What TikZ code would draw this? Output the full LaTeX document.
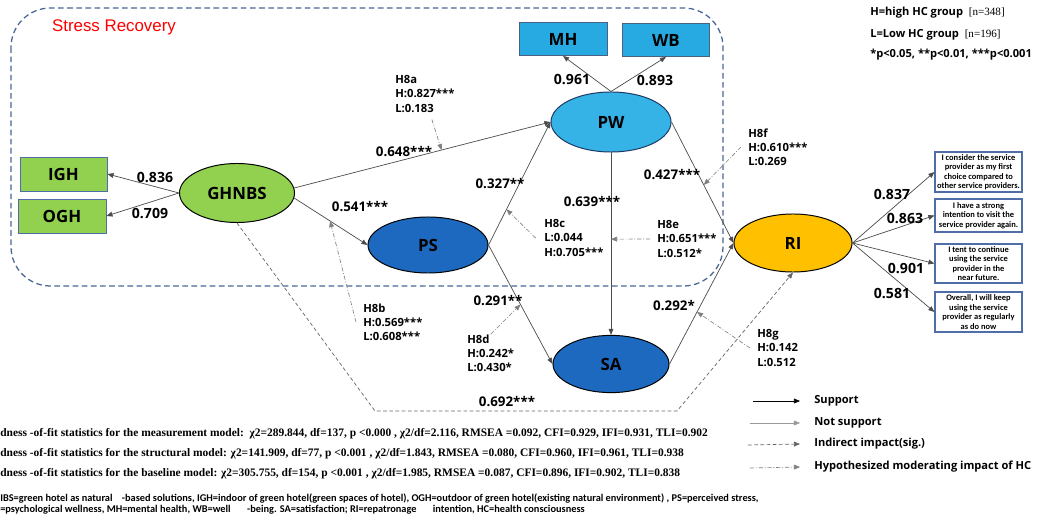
\documentclass[tikz,border=0pt]{standalone}
\usepackage{fontspec}
\setmainfont{Open Sans}
\newfontfamily\arialfont{Liberation Sans}
\newfontfamily\timesfont{Liberation Serif}
\newfontfamily\itemfont{Carlito}
\usepackage{tikz}
\usepackage{xcolor}
\usetikzlibrary{arrows.meta}
\usetikzlibrary{shapes.geometric}
\usetikzlibrary{positioning}

\definecolor{ghgreen}{HTML}{92D050}
\definecolor{pwblue}{HTML}{35B2E6}
\definecolor{mhblue}{HTML}{27A9E1}
\definecolor{psblue}{HTML}{1C69BF}
\definecolor{riyellow}{HTML}{FFC000}
\definecolor{frameblue}{HTML}{4A6697}
\definecolor{boxblue}{HTML}{4F6EA8}
\definecolor{navyline}{HTML}{1F3864}

\begin{document}
\begin{tikzpicture}[x=0.025cm, y=-0.025cm,
		latent/.style={ellipse, draw=black, line width=0.7pt, inner sep=0pt,
			font=\fontsize{12}{14}\selectfont\bfseries},
		indicator/.style={rectangle, draw=boxblue, line width=0.6pt, inner sep=0pt,
			font=\fontsize{12}{14}\selectfont\bfseries},
		item/.style={rectangle, draw=boxblue, line width=0.8pt, fill=white,
			minimum width=2.175cm, inner xsep=0.4pt, inner ysep=0.5pt,
			align=center, font=\itemfont\bfseries\fontsize{6}{6.7}\selectfont},
		effect/.style={draw=black!70, line width=0.5pt, -{Triangle[length=4.3pt,width=3.4pt]}},
		notsup/.style={draw=black!40, line width=0.4pt, -{Triangle[length=4.3pt,width=3.4pt]}},
		indirect/.style={draw=black!60, line width=0.5pt, dash pattern=on 2.6pt off 1.8pt,
			-{Triangle[length=4.3pt,width=3.4pt]}},
		moderate/.style={draw=black!50, line width=0.45pt,
			dash pattern=on 3pt off 1.3pt on 0.6pt off 1.3pt,
			-{Triangle[length=4.3pt,width=3.4pt]}},
		loading/.style={inner sep=0pt, font=\fontsize{10}{12}\selectfont\bfseries},
		coef/.style={inner sep=0pt, font=\fontsize{9.5}{11}\selectfont\bfseries},
		hyp/.style={anchor=west, inner sep=0pt, align=left,
			font=\fontsize{8}{10}\selectfont\bfseries},
		legendtext/.style={anchor=west, inner sep=0pt, font=\fontsize{7.9}{10}\selectfont\bfseries},
		stat/.style={anchor=west, inner sep=0pt, font=\timesfont\bfseries\fontsize{8.15}{9}\selectfont}]
		\newcommand{\itemX}{978.5}	% x of the RI item boxes
		\newcommand{\legX}{800}		% end of the legend lines
		
		\fill[white] (0,0) rectangle (1046,517);	% background
		
		% stress recovery frame
		\draw[frameblue, line width=0.9pt, dash pattern=on 4pt off 2.5pt, rounded corners=28pt]
			(11,8) rectangle (723,286);
		\node[inner sep=0pt, text=red, font=\arialfont\fontsize{12}{14}\selectfont] (stress) at (114,27) {Stress Recovery};
		
		% constructs
		\node[latent, fill=ghgreen, minimum width=2.875cm, minimum height=1.475cm] (GHNBS) at (237,193) {GHNBS};
		\node[latent, fill=pwblue, draw=navyline, minimum width=3cm, minimum height=1.5cm] (PW) at (611,122) {PW};
		\node[latent, fill=psblue, minimum width=3cm, minimum height=1.4cm] (PS) at (428,245) {PS};
		\node[latent, fill=psblue, minimum width=2.9cm, minimum height=1.43cm] (SA) at (611,364) {SA};
		\node[latent, fill=riyellow, minimum width=2.95cm, minimum height=1.45cm] (RI) at (793,243) {RI};
		
		% indicators
		\node[indicator, fill=ghgreen, minimum width=2.175cm, minimum height=0.85cm] (IGH) at (63.5,174) {IGH};
		\node[indicator, fill=ghgreen, minimum width=2.2cm, minimum height=0.85cm] (OGH) at (62,216) {OGH};
		\node[indicator, fill=mhblue, draw=navyline!80, minimum width=2.2cm, minimum height=0.825cm] (MH) at (563,39) {MH};
		\node[indicator, fill=mhblue, draw=navyline!80, minimum width=2.175cm, minimum height=0.825cm] (WB) at (666,40) {WB};
		
		\node[item, minimum height=1cm] (ri1) at (\itemX,172) {I consider the service\\provider as my first\\choice compared to\\other service providers.};
		\node[item, minimum height=0.825cm] (ri2) at (\itemX,215.5) {I have a strong\\intention to visit the\\service provider again.};
		\node[item, minimum height=0.975cm] (ri3) at (\itemX,263.5) {I tent to continue\\using the service\\provider in the\\near future.};
		\node[item, minimum height=1cm] (ri4) at (\itemX,312) {Overall, I will keep\\using the service\\provider as regularly\\as do now};
		
		% loadings
		\draw[effect] (GHNBS.west) -- (IGH.east);
		\draw[effect] (GHNBS.west) -- (OGH.east);
		\draw[effect] (PW.north) -- (MH.south);
		\draw[effect] (PW.north) -- (WB.south);
		\draw[effect] (RI.east) -- (ri1.west);
		\draw[effect] (RI.east) -- (ri2.west);
		\draw[effect] (RI.east) -- (ri3.west);
		\draw[effect] (RI.east) -- (ri4.west);
		
		% structural paths
		\draw[effect] (GHNBS.5) -- coordinate[pos=0.575] (on8a) (PW.west);
		\draw[effect] (GHNBS.-5) -- coordinate[pos=0.49] (on8b) (PS.west);
		\draw[effect] (PS.east) -- coordinate[pos=0.29] (on8c) (PW.west);
		\draw[effect] (PS.east) -- coordinate[pos=0.5] (on8d) (SA.west);
		\draw[effect] (PW.south) -- coordinate[pos=0.475] (on8e) (SA.north);
		\draw[effect] (PW.east) -- coordinate[pos=0.52] (on8f) (RI.west);
		\draw[effect] (SA.east) -- coordinate[pos=0.43] (on8g) (RI.west);
		
		% indirect path
		\coordinate (ind1) at (375,411);
		\coordinate (ind2) at (677,411);
		\draw[indirect] (GHNBS.south) -- (ind1) -- (ind2) -- (RI.south);
		
		% coefficients
		\node[loading] (c836) at (155,177) {0.836};
		\node[loading] (c709) at (150,213) {0.709};
		\node[loading] (c961) at (572,79) {0.961};
		\node[loading] (c893) at (655,80) {0.893};
		\node[loading] (c837) at (892,194) {0.837};
		\node[loading] (c863) at (905,218) {0.863};
		\node[loading] (c901) at (906,268) {0.901};
		\node[loading] (c581) at (892,293) {0.581};
		\node[coef] (c648) at (404,152) {0.648***};
		\node[coef] (c541) at (360,207) {0.541***};
		\node[coef] (c327) at (500,184) {0.327**};
		\node[coef] (c639) at (592,202) {0.639***};
		\node[coef] (c427) at (672,175) {0.427***};
		\node[coef] (c291) at (498,301) {0.291**};
		\node[coef] (c292) at (674,306) {0.292*};
		\node[coef] (c692) at (507,402) {0.692***};
		
		% moderation by HC
		\node[hyp] (H8a) at (395,94) {H8a\\H:0.827***\\L:0.183};
		\node[hyp] (H8b) at (363,322) {H8b\\H:0.569***\\L:0.608***};
		\node[hyp] (H8c) at (544,238) {H8c\\L:0.044\\H:0.705***};
		\node[hyp] (H8d) at (467,353) {H8d\\H:0.242*\\L:0.430*};
		\node[hyp] (H8e) at (657,239) {H8e\\H:0.651***\\L:0.512*};
		\node[hyp] (H8f) at (748,147) {H8f\\H:0.610***\\L:0.269};
		\node[hyp] (H8g) at (757,348) {H8g\\H:0.142\\L:0.512};
		\draw[moderate] ([xshift=5pt,yshift=-5pt]H8a.south) -- (on8a);
		\draw[moderate] ([xshift=-5pt]H8b.west) -- (on8b);
		\draw[moderate] ([xshift=-6pt]H8c.west) -- (on8c);
		\draw[moderate] (H8d.north) -- (on8d);
		\draw[moderate] ([xshift=-5pt]H8e.west) -- (on8e);
		\draw[moderate] ([xshift=-5pt]H8f.west) -- (on8f);
		\draw[moderate] ([xshift=-5pt]H8g.west) -- (on8g);
		
		% groups and significance
		\node[legendtext] (grpH) at (870,13) {H=high HC group\ \ {\timesfont\mdseries[n=348]}};
		\node[legendtext] (grpL) at (870,35) {L=Low HC group\ \ {\timesfont\mdseries[n=196]}};
		\node[legendtext] (sig) at (870,55) {*p<0.05, **p<0.01, ***p<0.001};
		
		% line legend
		\coordinate (lg1) at (753,401);
		\coordinate (lg2) at (750,423);
		\coordinate (lg3) at (748,445);
		\coordinate (lg4) at (750,468);
		\node[legendtext, inner xsep=10pt] (supp) at (\legX,401) {Support};
		\node[legendtext, inner xsep=10pt] (nsupp) at (\legX,423) {Not support};
		\node[legendtext, inner xsep=10pt] (indir) at (\legX,444) {Indirect impact(sig.)};
		\node[legendtext, inner xsep=10pt] (hypmod) at (\legX,467) {Hypothesized moderating impact of HC};
		\draw[effect, draw=black] (lg1) -- (supp.west);
		\draw[notsup] (lg2) -- (nsupp.west);
		\draw[indirect] (lg3) -- (indir.west);
		\draw[moderate] (lg4) -- (hypmod.west);
		
		% fit statistics
		\node[stat] (fitM) at (0,434) {dness -of-fit statistics for the measurement model:\ \ χ2=289.844, df=137, p <0.000 , χ2/df=2.116, RMSEA =0.092, CFI=0.929, IFI=0.931, TLI=0.902};
		\node[stat] (fitS) at (0,454) {dness -of-fit statistics for the structural model: χ2=141.909, df=77, p <0.001 , χ2/df=1.843, RMSEA =0.080, CFI=0.960, IFI=0.961, TLI=0.938};
		\node[stat] (fitB) at (0,474) {dness -of-fit statistics for the baseline model: χ2=305.755, df=154, p <0.001 , χ2/df=1.985, RMSEA =0.087, CFI=0.896, IFI=0.902, TLI=0.838};
		
		% abbreviations
		\node[anchor=north west, inner sep=0pt, align=left, font=\itemfont\bfseries\fontsize{7.35}{7.8}\selectfont] (abbr) at (0,494)
			{IBS=green hotel as natural\ \ \ \ -based solutions, IGH=indoor of green hotel(green spaces of hotel), OGH=outdoor of green hotel(existing natural environment) , PS=perceived stress,\\
			=psychological wellness, MH=mental health, WB=well\ \ \ \ \ \ \ -being. SA=satisfaction; RI=repatronage\ \ \ \ \ \ \ intention, HC=health consciousness};
\end{tikzpicture}
\end{document}
